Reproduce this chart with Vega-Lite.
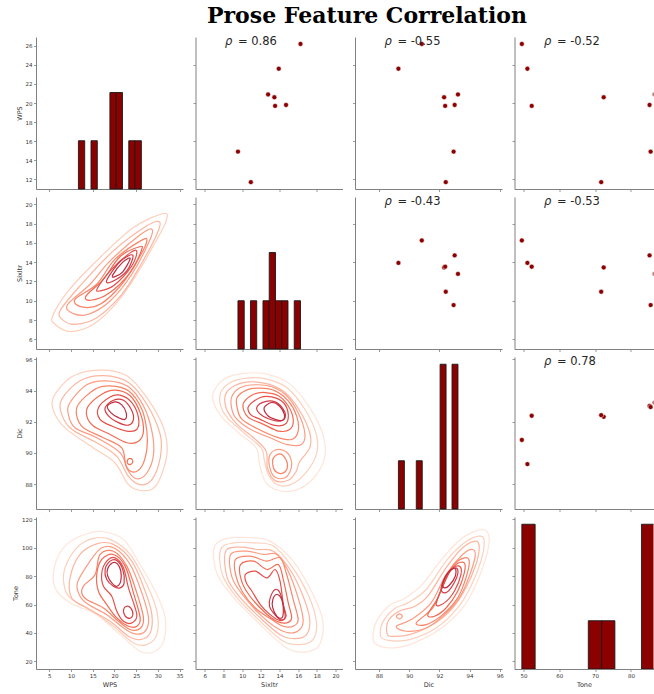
{
"$schema":"https://vega.github.io/schema/vega-lite/v6.json",
"background":"white",
"padding":{"left":12,"top":4,"right":0,"bottom":2},
"title":{"text":"Prose Feature Correlation","font":"DejaVu Serif","fontSize":22,"fontWeight":"bold","color":"#000000","anchor":"middle","dx":32,"offset":8},
"columns":4,
"spacing":{"row":8,"column":12.5},
"bounds":"flush",
"datasets":{
"pts":[
{"id":"a","WPS":26.2,"Sixltr":16.25,"Dic":90.83,"Tone":49.55},
{"id":"b","WPS":23.6,"Sixltr":13.92,"Dic":89.28,"Tone":51.1},
{"id":"c","WPS":20.9,"Sixltr":12.78,"Dic":93.23,"Tone":86.65},
{"id":"d","WPS":20.6,"Sixltr":13.45,"Dic":92.31,"Tone":72.4},
{"id":"e","WPS":19.7,"Sixltr":13.53,"Dic":92.38,"Tone":52.3},
{"id":"f","WPS":19.8,"Sixltr":14.7,"Dic":93.01,"Tone":85.2},
{"id":"g","WPS":14.9,"Sixltr":9.55,"Dic":92.94,"Tone":85.5},
{"id":"h","WPS":11.7,"Sixltr":10.93,"Dic":92.42,"Tone":71.7}
],
"hist":[
{"var":"WPS","lo":11.7,"hi":13.15,"n":1},{"var":"WPS","lo":14.6,"hi":16.05,"n":1},{"var":"WPS","lo":18.95,"hi":20.4,"n":2},{"var":"WPS","lo":20.4,"hi":21.85,"n":2},{"var":"WPS","lo":23.3,"hi":24.75,"n":1},{"var":"WPS","lo":24.75,"hi":26.2,"n":1},
{"var":"Sixltr","lo":9.55,"hi":10.22,"n":1},{"var":"Sixltr","lo":10.89,"hi":11.56,"n":1},{"var":"Sixltr","lo":12.23,"hi":12.9,"n":1},{"var":"Sixltr","lo":12.9,"hi":13.57,"n":2},{"var":"Sixltr","lo":13.57,"hi":14.24,"n":1},{"var":"Sixltr","lo":14.24,"hi":14.91,"n":1},{"var":"Sixltr","lo":15.58,"hi":16.25,"n":1},
{"var":"Dic","lo":89.28,"hi":89.675,"n":1},{"var":"Dic","lo":90.465,"hi":90.86,"n":1},{"var":"Dic","lo":92.045,"hi":92.44,"n":3},{"var":"Dic","lo":92.835,"hi":93.23,"n":3},
{"var":"Tone","lo":49.55,"hi":53.26,"n":3},{"var":"Tone","lo":68.1,"hi":71.81,"n":1},{"var":"Tone","lo":71.81,"hi":75.52,"n":1},{"var":"Tone","lo":82.94,"hi":86.65,"n":3}
],
"rho":[
{"pair":"WPS-Sixltr","label":"= 0.86"},{"pair":"WPS-Dic","label":"= -0.55"},{"pair":"WPS-Tone","label":"= -0.52"},
{"pair":"Sixltr-Dic","label":"= -0.43"},{"pair":"Sixltr-Tone","label":"= -0.53"},{"pair":"Dic-Tone","label":"= 0.78"}
],
"c_ws":[
{"r":"1","l":2,"k":0,"WPS":5.77,"Sixltr":8.42},{"r":"1","l":2,"k":1,"WPS":9.38,"Sixltr":11.02},{"r":"1","l":2,"k":2,"WPS":16.69,"Sixltr":14.48},{"r":"1","l":2,"k":3,"WPS":24.38,"Sixltr":17.59},{"r":"1","l":2,"k":4,"WPS":31.31,"Sixltr":19.04},{"r":"1","l":2,"k":5,"WPS":31.92,"Sixltr":18.28},{"r":"1","l":2,"k":6,"WPS":29.38,"Sixltr":16.03},{"r":"1","l":2,"k":7,"WPS":25.15,"Sixltr":12.75},{"r":"1","l":2,"k":8,"WPS":20.54,"Sixltr":9.81},{"r":"1","l":2,"k":9,"WPS":15.15,"Sixltr":7.56},{"r":"1","l":2,"k":10,"WPS":9.77,"Sixltr":6.8},{"r":"1","l":2,"k":11,"WPS":6.31,"Sixltr":7.56},
{"r":"2","l":3,"k":0,"WPS":7.46,"Sixltr":8.94},{"r":"2","l":3,"k":1,"WPS":12.08,"Sixltr":11.54},{"r":"2","l":3,"k":2,"WPS":19.77,"Sixltr":15.17},{"r":"2","l":3,"k":3,"WPS":27.46,"Sixltr":17.76},{"r":"2","l":3,"k":4,"WPS":30.38,"Sixltr":18.18},{"r":"2","l":3,"k":5,"WPS":29.77,"Sixltr":16.9},{"r":"2","l":3,"k":6,"WPS":25.92,"Sixltr":13.62},{"r":"2","l":3,"k":7,"WPS":21.69,"Sixltr":10.67},{"r":"2","l":3,"k":8,"WPS":15.92,"Sixltr":8.25},{"r":"2","l":3,"k":9,"WPS":10.92,"Sixltr":7.56},{"r":"2","l":3,"k":10,"WPS":8.23,"Sixltr":7.97},
{"r":"3","l":4,"k":0,"WPS":9.15,"Sixltr":9.56},{"r":"3","l":4,"k":1,"WPS":14.38,"Sixltr":11.71},{"r":"3","l":4,"k":2,"WPS":19.0,"Sixltr":14.13},{"r":"3","l":4,"k":3,"WPS":25.92,"Sixltr":16.83},{"r":"3","l":4,"k":4,"WPS":28.62,"Sixltr":17.42},{"r":"3","l":4,"k":5,"WPS":28.08,"Sixltr":16.21},{"r":"3","l":4,"k":6,"WPS":24.0,"Sixltr":12.75},{"r":"3","l":4,"k":7,"WPS":19.0,"Sixltr":9.98},{"r":"3","l":4,"k":8,"WPS":14.0,"Sixltr":8.6},{"r":"3","l":4,"k":9,"WPS":10.54,"Sixltr":8.67},
{"r":"4","l":5,"k":0,"WPS":10.92,"Sixltr":10.15},{"r":"4","l":5,"k":1,"WPS":15.92,"Sixltr":11.71},{"r":"4","l":5,"k":2,"WPS":20.15,"Sixltr":14.31},{"r":"4","l":5,"k":3,"WPS":26.31,"Sixltr":16.28},{"r":"4","l":5,"k":4,"WPS":27.46,"Sixltr":16.21},{"r":"4","l":5,"k":5,"WPS":25.92,"Sixltr":14.65},{"r":"4","l":5,"k":6,"WPS":21.69,"Sixltr":11.71},{"r":"4","l":5,"k":7,"WPS":16.69,"Sixltr":9.63},{"r":"4","l":5,"k":8,"WPS":12.46,"Sixltr":9.36},
{"r":"5","l":6,"k":0,"WPS":13.46,"Sixltr":10.5},{"r":"5","l":6,"k":1,"WPS":17.46,"Sixltr":12.22},{"r":"5","l":6,"k":2,"WPS":21.31,"Sixltr":14.58},{"r":"5","l":6,"k":3,"WPS":25.77,"Sixltr":15.59},{"r":"5","l":6,"k":4,"WPS":26.23,"Sixltr":15.24},{"r":"5","l":6,"k":5,"WPS":23.62,"Sixltr":12.92},{"r":"5","l":6,"k":6,"WPS":18.62,"Sixltr":10.74},{"r":"5","l":6,"k":7,"WPS":14.54,"Sixltr":10.05},
{"r":"6","l":7,"k":0,"WPS":16.08,"Sixltr":11.29},{"r":"6","l":7,"k":1,"WPS":19.38,"Sixltr":13.27},{"r":"6","l":7,"k":2,"WPS":23.62,"Sixltr":14.96},{"r":"6","l":7,"k":3,"WPS":25.15,"Sixltr":15.1},{"r":"6","l":7,"k":4,"WPS":24.0,"Sixltr":13.62},{"r":"6","l":7,"k":5,"WPS":19.92,"Sixltr":11.61},{"r":"6","l":7,"k":6,"WPS":16.69,"Sixltr":11.02},
{"r":"7","l":8,"k":0,"WPS":18.23,"Sixltr":12.13},{"r":"7","l":8,"k":1,"WPS":21.31,"Sixltr":14.07},{"r":"7","l":8,"k":2,"WPS":24.23,"Sixltr":14.72},{"r":"7","l":8,"k":3,"WPS":22.85,"Sixltr":13.09},{"r":"7","l":8,"k":4,"WPS":19.38,"Sixltr":11.96},
{"r":"8","l":9,"k":0,"WPS":19.62,"Sixltr":12.68},{"r":"8","l":9,"k":1,"WPS":21.92,"Sixltr":14.0},{"r":"8","l":9,"k":2,"WPS":23.62,"Sixltr":14.38},{"r":"8","l":9,"k":3,"WPS":21.92,"Sixltr":13.0},{"r":"8","l":9,"k":4,"WPS":20.0,"Sixltr":12.48}
],
"c_wd":[
{"r":"1","l":2,"k":0,"WPS":5.92,"Dic":93.55},{"r":"1","l":2,"k":1,"WPS":10.15,"Dic":94.88},{"r":"1","l":2,"k":2,"WPS":16.69,"Dic":95.31},{"r":"1","l":2,"k":3,"WPS":22.85,"Dic":94.95},{"r":"1","l":2,"k":4,"WPS":27.46,"Dic":93.55},{"r":"1","l":2,"k":5,"WPS":31.31,"Dic":91.61},{"r":"1","l":2,"k":6,"WPS":32.08,"Dic":89.89},{"r":"1","l":2,"k":7,"WPS":29.77,"Dic":87.96},{"r":"1","l":2,"k":8,"WPS":26.69,"Dic":87.57},{"r":"1","l":2,"k":9,"WPS":23.23,"Dic":87.96},{"r":"1","l":2,"k":10,"WPS":20.15,"Dic":89.35},{"r":"1","l":2,"k":11,"WPS":15.15,"Dic":90.32},{"r":"1","l":2,"k":12,"WPS":9.0,"Dic":91.51},{"r":"1","l":2,"k":13,"WPS":6.31,"Dic":92.47},
{"r":"2","l":3,"k":0,"WPS":7.85,"Dic":93.44},{"r":"2","l":3,"k":1,"WPS":12.08,"Dic":94.62},{"r":"2","l":3,"k":2,"WPS":17.46,"Dic":94.95},{"r":"2","l":3,"k":3,"WPS":23.23,"Dic":94.52},{"r":"2","l":3,"k":4,"WPS":27.46,"Dic":93.12},{"r":"2","l":3,"k":5,"WPS":30.54,"Dic":91.18},{"r":"2","l":3,"k":6,"WPS":30.54,"Dic":89.68},{"r":"2","l":3,"k":7,"WPS":28.62,"Dic":88.28},{"r":"2","l":3,"k":8,"WPS":25.92,"Dic":87.96},{"r":"2","l":3,"k":9,"WPS":23.23,"Dic":88.49},{"r":"2","l":3,"k":10,"WPS":20.54,"Dic":89.78},{"r":"2","l":3,"k":11,"WPS":15.92,"Dic":90.65},{"r":"2","l":3,"k":12,"WPS":10.15,"Dic":91.51},{"r":"2","l":3,"k":13,"WPS":7.85,"Dic":92.47},
{"r":"3","l":4,"k":0,"WPS":9.77,"Dic":93.23},{"r":"3","l":4,"k":1,"WPS":13.62,"Dic":94.37},{"r":"3","l":4,"k":2,"WPS":18.23,"Dic":94.62},{"r":"3","l":4,"k":3,"WPS":23.23,"Dic":94.24},{"r":"3","l":4,"k":4,"WPS":26.69,"Dic":93.01},{"r":"3","l":4,"k":5,"WPS":28.62,"Dic":91.4},{"r":"3","l":4,"k":6,"WPS":29.0,"Dic":89.89},{"r":"3","l":4,"k":7,"WPS":27.46,"Dic":88.71},{"r":"3","l":4,"k":8,"WPS":25.15,"Dic":88.34},{"r":"3","l":4,"k":9,"WPS":23.23,"Dic":88.82},{"r":"3","l":4,"k":10,"WPS":21.31,"Dic":90.0},{"r":"3","l":4,"k":11,"WPS":15.92,"Dic":90.97},{"r":"3","l":4,"k":12,"WPS":10.92,"Dic":91.61},{"r":"3","l":4,"k":13,"WPS":9.38,"Dic":92.47},
{"r":"4","l":5,"k":0,"WPS":11.69,"Dic":93.12},{"r":"4","l":5,"k":1,"WPS":15.54,"Dic":94.09},{"r":"4","l":5,"k":2,"WPS":19.0,"Dic":94.3},{"r":"4","l":5,"k":3,"WPS":23.23,"Dic":93.98},{"r":"4","l":5,"k":4,"WPS":26.31,"Dic":92.8},{"r":"4","l":5,"k":5,"WPS":27.46,"Dic":91.4},{"r":"4","l":5,"k":6,"WPS":27.46,"Dic":90.22},{"r":"4","l":5,"k":7,"WPS":26.31,"Dic":89.14},{"r":"4","l":5,"k":8,"WPS":24.38,"Dic":88.77},{"r":"4","l":5,"k":9,"WPS":22.69,"Dic":89.14},{"r":"4","l":5,"k":10,"WPS":21.69,"Dic":90.32},{"r":"4","l":5,"k":11,"WPS":17.46,"Dic":90.97},{"r":"4","l":5,"k":12,"WPS":12.85,"Dic":91.61},{"r":"4","l":5,"k":13,"WPS":11.31,"Dic":92.37},
{"r":"5","l":6,"k":0,"WPS":14.0,"Dic":93.01},{"r":"5","l":6,"k":1,"WPS":17.08,"Dic":93.76},{"r":"5","l":6,"k":2,"WPS":20.15,"Dic":94.02},{"r":"5","l":6,"k":3,"WPS":23.62,"Dic":93.66},{"r":"5","l":6,"k":4,"WPS":25.92,"Dic":92.58},{"r":"5","l":6,"k":5,"WPS":26.69,"Dic":91.4},{"r":"5","l":6,"k":6,"WPS":25.54,"Dic":90.75},{"r":"5","l":6,"k":7,"WPS":22.85,"Dic":90.65},{"r":"5","l":6,"k":8,"WPS":19.0,"Dic":91.18},{"r":"5","l":6,"k":9,"WPS":15.15,"Dic":91.72},{"r":"5","l":6,"k":10,"WPS":13.62,"Dic":92.37},
{"r":"5b","l":6,"k":0,"WPS":23.08,"Dic":89.57},{"r":"5b","l":6,"k":1,"WPS":23.85,"Dic":89.63},{"r":"5b","l":6,"k":2,"WPS":24.23,"Dic":89.42},{"r":"5b","l":6,"k":3,"WPS":23.62,"Dic":89.25},{"r":"5b","l":6,"k":4,"WPS":23.0,"Dic":89.35},
{"r":"6","l":7,"k":0,"WPS":16.31,"Dic":92.9},{"r":"6","l":7,"k":1,"WPS":19.0,"Dic":93.59},{"r":"6","l":7,"k":2,"WPS":21.31,"Dic":93.7},{"r":"6","l":7,"k":3,"WPS":24.0,"Dic":93.23},{"r":"6","l":7,"k":4,"WPS":25.54,"Dic":92.26},{"r":"6","l":7,"k":5,"WPS":25.15,"Dic":91.51},{"r":"6","l":7,"k":6,"WPS":22.85,"Dic":91.4},{"r":"6","l":7,"k":7,"WPS":19.38,"Dic":91.72},{"r":"6","l":7,"k":8,"WPS":16.69,"Dic":92.15},
{"r":"7","l":8,"k":0,"WPS":17.85,"Dic":92.9},{"r":"7","l":8,"k":1,"WPS":19.77,"Dic":93.38},{"r":"7","l":8,"k":2,"WPS":22.08,"Dic":93.38},{"r":"7","l":8,"k":3,"WPS":23.85,"Dic":92.8},{"r":"7","l":8,"k":4,"WPS":24.38,"Dic":92.15},{"r":"7","l":8,"k":5,"WPS":23.23,"Dic":91.78},{"r":"7","l":8,"k":6,"WPS":20.92,"Dic":91.94},{"r":"7","l":8,"k":7,"WPS":18.62,"Dic":92.37},
{"r":"8","l":9,"k":0,"WPS":18.38,"Dic":93.01},{"r":"8","l":9,"k":1,"WPS":20.15,"Dic":93.27},{"r":"8","l":9,"k":2,"WPS":21.69,"Dic":93.08},{"r":"8","l":9,"k":3,"WPS":22.69,"Dic":92.58},{"r":"8","l":9,"k":4,"WPS":22.46,"Dic":92.15},{"r":"8","l":9,"k":5,"WPS":20.92,"Dic":92.26},{"r":"8","l":9,"k":6,"WPS":19.15,"Dic":92.58}
],
"c_sd":[
{"r":"1","l":1,"k":0,"Sixltr":6.92,"Dic":93.87},{"r":"1","l":1,"k":1,"Sixltr":8.05,"Dic":94.73},{"r":"1","l":1,"k":2,"Sixltr":10.17,"Dic":95.1},{"r":"1","l":1,"k":3,"Sixltr":12.64,"Dic":95.05},{"r":"1","l":1,"k":4,"Sixltr":15.12,"Dic":94.41},{"r":"1","l":1,"k":5,"Sixltr":17.24,"Dic":92.9},{"r":"1","l":1,"k":6,"Sixltr":18.65,"Dic":91.18},{"r":"1","l":1,"k":7,"Sixltr":18.83,"Dic":89.68},{"r":"1","l":1,"k":8,"Sixltr":17.59,"Dic":88.34},{"r":"1","l":1,"k":9,"Sixltr":15.83,"Dic":87.63},{"r":"1","l":1,"k":10,"Sixltr":14.06,"Dic":87.57},{"r":"1","l":1,"k":11,"Sixltr":12.57,"Dic":88.06},{"r":"1","l":1,"k":12,"Sixltr":11.87,"Dic":89.25},{"r":"1","l":1,"k":13,"Sixltr":11.51,"Dic":90.32},{"r":"1","l":1,"k":14,"Sixltr":9.82,"Dic":91.18},{"r":"1","l":1,"k":15,"Sixltr":7.87,"Dic":92.26},{"r":"1","l":1,"k":16,"Sixltr":6.99,"Dic":93.12},
{"r":"2","l":2,"k":0,"Sixltr":7.7,"Dic":93.87},{"r":"2","l":2,"k":1,"Sixltr":8.75,"Dic":94.52},{"r":"2","l":2,"k":2,"Sixltr":10.52,"Dic":94.8},{"r":"2","l":2,"k":3,"Sixltr":12.64,"Dic":94.73},{"r":"2","l":2,"k":4,"Sixltr":14.77,"Dic":94.19},{"r":"2","l":2,"k":5,"Sixltr":16.71,"Dic":92.8},{"r":"2","l":2,"k":6,"Sixltr":17.95,"Dic":91.18},{"r":"2","l":2,"k":7,"Sixltr":17.95,"Dic":89.89},{"r":"2","l":2,"k":8,"Sixltr":16.71,"Dic":88.65},{"r":"2","l":2,"k":9,"Sixltr":15.19,"Dic":87.96},{"r":"2","l":2,"k":10,"Sixltr":13.78,"Dic":87.96},{"r":"2","l":2,"k":11,"Sixltr":12.82,"Dic":88.6},{"r":"2","l":2,"k":12,"Sixltr":12.36,"Dic":89.57},{"r":"2","l":2,"k":13,"Sixltr":12.04,"Dic":90.32},{"r":"2","l":2,"k":14,"Sixltr":10.17,"Dic":91.29},{"r":"2","l":2,"k":15,"Sixltr":8.4,"Dic":92.26},{"r":"2","l":2,"k":16,"Sixltr":7.7,"Dic":93.01},
{"r":"3","l":3,"k":0,"Sixltr":8.23,"Dic":93.76},{"r":"3","l":3,"k":1,"Sixltr":9.29,"Dic":94.34},{"r":"3","l":3,"k":2,"Sixltr":10.88,"Dic":94.56},{"r":"3","l":3,"k":3,"Sixltr":12.82,"Dic":94.41},{"r":"3","l":3,"k":4,"Sixltr":14.59,"Dic":93.87},{"r":"3","l":3,"k":5,"Sixltr":16.18,"Dic":92.69},{"r":"3","l":3,"k":6,"Sixltr":17.24,"Dic":91.29},{"r":"3","l":3,"k":7,"Sixltr":17.24,"Dic":90.32},{"r":"3","l":3,"k":8,"Sixltr":16.18,"Dic":89.46},{"r":"3","l":3,"k":9,"Sixltr":15.75,"Dic":88.77},{"r":"3","l":3,"k":10,"Sixltr":14.94,"Dic":88.24},{"r":"3","l":3,"k":11,"Sixltr":13.53,"Dic":88.22},{"r":"3","l":3,"k":12,"Sixltr":12.71,"Dic":89.03},{"r":"3","l":3,"k":13,"Sixltr":12.57,"Dic":90.11},{"r":"3","l":3,"k":14,"Sixltr":11.23,"Dic":90.97},{"r":"3","l":3,"k":15,"Sixltr":9.46,"Dic":91.83},{"r":"3","l":3,"k":16,"Sixltr":8.33,"Dic":92.8},
{"r":"4","l":4,"k":0,"Sixltr":8.93,"Dic":93.66},{"r":"4","l":4,"k":1,"Sixltr":9.82,"Dic":94.19},{"r":"4","l":4,"k":2,"Sixltr":11.4,"Dic":94.37},{"r":"4","l":4,"k":3,"Sixltr":13.17,"Dic":94.24},{"r":"4","l":4,"k":4,"Sixltr":14.77,"Dic":93.66},{"r":"4","l":4,"k":5,"Sixltr":16.0,"Dic":92.58},{"r":"4","l":4,"k":6,"Sixltr":16.71,"Dic":91.29},{"r":"4","l":4,"k":7,"Sixltr":16.36,"Dic":90.54},{"r":"4","l":4,"k":8,"Sixltr":14.77,"Dic":90.54},{"r":"4","l":4,"k":9,"Sixltr":12.99,"Dic":90.97},{"r":"4","l":4,"k":10,"Sixltr":10.88,"Dic":91.51},{"r":"4","l":4,"k":11,"Sixltr":9.29,"Dic":92.26},{"r":"4","l":4,"k":12,"Sixltr":8.83,"Dic":93.01},
{"r":"4b","l":4,"k":0,"Sixltr":12.99,"Dic":89.89},{"r":"4b","l":4,"k":1,"Sixltr":13.88,"Dic":90.22},{"r":"4b","l":4,"k":2,"Sixltr":14.94,"Dic":89.94},{"r":"4b","l":4,"k":3,"Sixltr":15.29,"Dic":89.14},{"r":"4b","l":4,"k":4,"Sixltr":14.69,"Dic":88.43},{"r":"4b","l":4,"k":5,"Sixltr":13.53,"Dic":88.43},{"r":"4b","l":4,"k":6,"Sixltr":12.93,"Dic":89.14},
{"r":"5","l":5,"k":0,"Sixltr":9.46,"Dic":93.55},{"r":"5","l":5,"k":1,"Sixltr":10.52,"Dic":94.04},{"r":"5","l":5,"k":2,"Sixltr":11.94,"Dic":94.15},{"r":"5","l":5,"k":3,"Sixltr":13.53,"Dic":93.98},{"r":"5","l":5,"k":4,"Sixltr":14.94,"Dic":93.33},{"r":"5","l":5,"k":5,"Sixltr":15.83,"Dic":92.37},{"r":"5","l":5,"k":6,"Sixltr":16.0,"Dic":91.4},{"r":"5","l":5,"k":7,"Sixltr":15.29,"Dic":90.86},{"r":"5","l":5,"k":8,"Sixltr":13.7,"Dic":91.01},{"r":"5","l":5,"k":9,"Sixltr":11.76,"Dic":91.51},{"r":"5","l":5,"k":10,"Sixltr":9.99,"Dic":92.15},{"r":"5","l":5,"k":11,"Sixltr":9.46,"Dic":92.9},
{"r":"5b","l":5,"k":0,"Sixltr":13.35,"Dic":89.68},{"r":"5b","l":5,"k":1,"Sixltr":14.06,"Dic":89.94},{"r":"5b","l":5,"k":2,"Sixltr":14.69,"Dic":89.57},{"r":"5b","l":5,"k":3,"Sixltr":14.83,"Dic":89.03},{"r":"5b","l":5,"k":4,"Sixltr":14.27,"Dic":88.69},{"r":"5b","l":5,"k":5,"Sixltr":13.56,"Dic":88.82},{"r":"5b","l":5,"k":6,"Sixltr":13.28,"Dic":89.25},
{"r":"6","l":6,"k":0,"Sixltr":10.17,"Dic":93.23},{"r":"6","l":6,"k":1,"Sixltr":11.23,"Dic":93.76},{"r":"6","l":6,"k":2,"Sixltr":12.47,"Dic":93.87},{"r":"6","l":6,"k":3,"Sixltr":13.88,"Dic":93.66},{"r":"6","l":6,"k":4,"Sixltr":14.94,"Dic":93.01},{"r":"6","l":6,"k":5,"Sixltr":15.47,"Dic":92.15},{"r":"6","l":6,"k":6,"Sixltr":15.12,"Dic":91.51},{"r":"6","l":6,"k":7,"Sixltr":13.88,"Dic":91.4},{"r":"6","l":6,"k":8,"Sixltr":12.29,"Dic":91.83},{"r":"6","l":6,"k":9,"Sixltr":10.7,"Dic":92.26},{"r":"6","l":6,"k":10,"Sixltr":10.17,"Dic":92.73},
{"r":"7","l":7,"k":0,"Sixltr":10.7,"Dic":93.01},{"r":"7","l":7,"k":1,"Sixltr":11.94,"Dic":93.55},{"r":"7","l":7,"k":2,"Sixltr":13.17,"Dic":93.59},{"r":"7","l":7,"k":3,"Sixltr":14.41,"Dic":93.23},{"r":"7","l":7,"k":4,"Sixltr":14.94,"Dic":92.47},{"r":"7","l":7,"k":5,"Sixltr":14.59,"Dic":91.83},{"r":"7","l":7,"k":6,"Sixltr":13.35,"Dic":91.78},{"r":"7","l":7,"k":7,"Sixltr":11.94,"Dic":92.15},{"r":"7","l":7,"k":8,"Sixltr":10.88,"Dic":92.47},
{"r":"8","l":8,"k":0,"Sixltr":11.58,"Dic":92.95},{"r":"8","l":8,"k":1,"Sixltr":12.47,"Dic":93.29},{"r":"8","l":8,"k":2,"Sixltr":13.53,"Dic":93.27},{"r":"8","l":8,"k":3,"Sixltr":14.41,"Dic":92.8},{"r":"8","l":8,"k":4,"Sixltr":14.59,"Dic":92.26},{"r":"8","l":8,"k":5,"Sixltr":13.88,"Dic":92.04},{"r":"8","l":8,"k":6,"Sixltr":12.82,"Dic":92.19},{"r":"8","l":8,"k":7,"Sixltr":11.87,"Dic":92.52},
{"r":"9","l":9,"k":0,"Sixltr":12.36,"Dic":92.9},{"r":"9","l":9,"k":1,"Sixltr":13.17,"Dic":93.23},{"r":"9","l":9,"k":2,"Sixltr":13.99,"Dic":93.01},{"r":"9","l":9,"k":3,"Sixltr":14.52,"Dic":92.47},{"r":"9","l":9,"k":4,"Sixltr":14.34,"Dic":92.09},{"r":"9","l":9,"k":5,"Sixltr":13.53,"Dic":92.15},{"r":"9","l":9,"k":6,"Sixltr":12.71,"Dic":92.41}
],
"c_wt":[
{"r":"1","l":1,"k":0,"WPS":6.31,"Tone":88.2},{"r":"1","l":1,"k":1,"WPS":9.0,"Tone":102.4},{"r":"1","l":1,"k":2,"WPS":13.62,"Tone":109.9},{"r":"1","l":1,"k":3,"WPS":17.46,"Tone":111.3},{"r":"1","l":1,"k":4,"WPS":22.08,"Tone":105.9},{"r":"1","l":1,"k":5,"WPS":25.92,"Tone":88.2},{"r":"1","l":1,"k":6,"WPS":29.77,"Tone":67.1},{"r":"1","l":1,"k":7,"WPS":31.69,"Tone":50.6},{"r":"1","l":1,"k":8,"WPS":31.31,"Tone":34.1},{"r":"1","l":1,"k":9,"WPS":29.0,"Tone":26.6},{"r":"1","l":1,"k":10,"WPS":25.92,"Tone":27.1},{"r":"1","l":1,"k":11,"WPS":21.31,"Tone":38.8},{"r":"1","l":1,"k":12,"WPS":15.92,"Tone":52.9},{"r":"1","l":1,"k":13,"WPS":9.77,"Tone":61.2},{"r":"1","l":1,"k":14,"WPS":6.31,"Tone":71.8},
{"r":"2","l":2,"k":0,"WPS":8.62,"Tone":85.9},{"r":"2","l":2,"k":1,"WPS":11.31,"Tone":100.0},{"r":"2","l":2,"k":2,"WPS":15.15,"Tone":106.6},{"r":"2","l":2,"k":3,"WPS":19.0,"Tone":105.9},{"r":"2","l":2,"k":4,"WPS":23.62,"Tone":95.3},{"r":"2","l":2,"k":5,"WPS":27.46,"Tone":74.1},{"r":"2","l":2,"k":6,"WPS":29.77,"Tone":55.3},{"r":"2","l":2,"k":7,"WPS":29.77,"Tone":38.8},{"r":"2","l":2,"k":8,"WPS":27.46,"Tone":31.8},{"r":"2","l":2,"k":9,"WPS":24.38,"Tone":32.9},{"r":"2","l":2,"k":10,"WPS":19.77,"Tone":44.7},{"r":"2","l":2,"k":11,"WPS":14.38,"Tone":56.5},{"r":"2","l":2,"k":12,"WPS":9.77,"Tone":64.7},{"r":"2","l":2,"k":13,"WPS":8.38,"Tone":74.1},
{"r":"3","l":3,"k":0,"WPS":9.77,"Tone":78.8},{"r":"3","l":3,"k":1,"WPS":12.08,"Tone":95.3},{"r":"3","l":3,"k":2,"WPS":15.92,"Tone":102.8},{"r":"3","l":3,"k":3,"WPS":19.77,"Tone":102.4},{"r":"3","l":3,"k":4,"WPS":24.0,"Tone":90.6},{"r":"3","l":3,"k":5,"WPS":27.08,"Tone":69.4},{"r":"3","l":3,"k":6,"WPS":28.62,"Tone":52.9},{"r":"3","l":3,"k":7,"WPS":28.23,"Tone":40.0},{"r":"3","l":3,"k":8,"WPS":25.92,"Tone":35.3},{"r":"3","l":3,"k":9,"WPS":23.23,"Tone":37.6},{"r":"3","l":3,"k":10,"WPS":19.0,"Tone":48.2},{"r":"3","l":3,"k":11,"WPS":13.62,"Tone":57.6},{"r":"3","l":3,"k":12,"WPS":10.15,"Tone":64.7},
{"r":"4","l":4,"k":0,"WPS":11.46,"Tone":75.3},{"r":"4","l":4,"k":1,"WPS":14.38,"Tone":90.6},{"r":"4","l":4,"k":2,"WPS":17.08,"Tone":100.0},{"r":"4","l":4,"k":3,"WPS":20.15,"Tone":99.5},{"r":"4","l":4,"k":4,"WPS":23.62,"Tone":88.2},{"r":"4","l":4,"k":5,"WPS":26.31,"Tone":68.2},{"r":"4","l":4,"k":6,"WPS":27.85,"Tone":50.6},{"r":"4","l":4,"k":7,"WPS":27.08,"Tone":41.2},{"r":"4","l":4,"k":8,"WPS":24.77,"Tone":39.3},{"r":"4","l":4,"k":9,"WPS":22.08,"Tone":43.5},{"r":"4","l":4,"k":10,"WPS":18.23,"Tone":52.9},{"r":"4","l":4,"k":11,"WPS":14.0,"Tone":60.0},{"r":"4","l":4,"k":12,"WPS":12.08,"Tone":65.9},
{"r":"5","l":5,"k":0,"WPS":13.0,"Tone":73.6},{"r":"5","l":5,"k":1,"WPS":15.54,"Tone":81.2},{"r":"5","l":5,"k":2,"WPS":16.69,"Tone":95.3},{"r":"5","l":5,"k":3,"WPS":19.77,"Tone":97.6},{"r":"5","l":5,"k":4,"WPS":22.85,"Tone":87.1},{"r":"5","l":5,"k":5,"WPS":25.15,"Tone":68.2},{"r":"5","l":5,"k":6,"WPS":26.69,"Tone":50.6},{"r":"5","l":5,"k":7,"WPS":25.92,"Tone":43.1},{"r":"5","l":5,"k":8,"WPS":23.62,"Tone":42.4},{"r":"5","l":5,"k":9,"WPS":20.92,"Tone":48.2},{"r":"5","l":5,"k":10,"WPS":17.46,"Tone":57.6},{"r":"5","l":5,"k":11,"WPS":13.62,"Tone":63.5},{"r":"5","l":5,"k":12,"WPS":12.46,"Tone":68.2},
{"r":"6","l":6,"k":0,"WPS":15.92,"Tone":81.2},{"r":"6","l":6,"k":1,"WPS":17.08,"Tone":91.8},{"r":"6","l":6,"k":2,"WPS":19.77,"Tone":95.3},{"r":"6","l":6,"k":3,"WPS":22.46,"Tone":87.1},{"r":"6","l":6,"k":4,"WPS":24.38,"Tone":68.2},{"r":"6","l":6,"k":5,"WPS":25.92,"Tone":50.6},{"r":"6","l":6,"k":6,"WPS":25.15,"Tone":44.7},{"r":"6","l":6,"k":7,"WPS":23.23,"Tone":44.7},{"r":"6","l":6,"k":8,"WPS":20.54,"Tone":50.6},{"r":"6","l":6,"k":9,"WPS":18.23,"Tone":60.0},{"r":"6","l":6,"k":10,"WPS":16.31,"Tone":69.4},
{"r":"7","l":7,"k":0,"WPS":17.08,"Tone":82.4},{"r":"7","l":7,"k":1,"WPS":18.23,"Tone":90.6},{"r":"7","l":7,"k":2,"WPS":20.15,"Tone":92.9},{"r":"7","l":7,"k":3,"WPS":22.08,"Tone":85.9},{"r":"7","l":7,"k":4,"WPS":23.23,"Tone":71.8},{"r":"7","l":7,"k":5,"WPS":25.15,"Tone":52.9},{"r":"7","l":7,"k":6,"WPS":24.0,"Tone":47.1},{"r":"7","l":7,"k":7,"WPS":22.08,"Tone":48.2},{"r":"7","l":7,"k":8,"WPS":20.54,"Tone":55.3},{"r":"7","l":7,"k":9,"WPS":19.38,"Tone":65.9},{"r":"7","l":7,"k":10,"WPS":17.46,"Tone":72.9},
{"r":"8","l":8,"k":0,"WPS":17.85,"Tone":84.7},{"r":"8","l":8,"k":1,"WPS":19.0,"Tone":90.6},{"r":"8","l":8,"k":2,"WPS":20.54,"Tone":91.1},{"r":"8","l":8,"k":3,"WPS":21.92,"Tone":84.7},{"r":"8","l":8,"k":4,"WPS":22.23,"Tone":75.3},{"r":"8","l":8,"k":5,"WPS":21.31,"Tone":71.8},{"r":"8","l":8,"k":6,"WPS":19.77,"Tone":72.9},{"r":"8","l":8,"k":7,"WPS":18.23,"Tone":77.6},
{"r":"8b","l":8,"k":0,"WPS":22.23,"Tone":57.6},{"r":"8b","l":8,"k":1,"WPS":23.23,"Tone":58.8},{"r":"8b","l":8,"k":2,"WPS":24.15,"Tone":55.3},{"r":"8b","l":8,"k":3,"WPS":24.0,"Tone":51.1},{"r":"8b","l":8,"k":4,"WPS":23.0,"Tone":50.6},{"r":"8b","l":8,"k":5,"WPS":22.23,"Tone":53.4},
{"r":"9","l":9,"k":0,"WPS":18.38,"Tone":84.7},{"r":"9","l":9,"k":1,"WPS":19.54,"Tone":89.4},{"r":"9","l":9,"k":2,"WPS":20.69,"Tone":88.7},{"r":"9","l":9,"k":3,"WPS":21.46,"Tone":83.5},{"r":"9","l":9,"k":4,"WPS":21.46,"Tone":76.5},{"r":"9","l":9,"k":5,"WPS":20.54,"Tone":72.9},{"r":"9","l":9,"k":6,"WPS":19.38,"Tone":75.3},{"r":"9","l":9,"k":7,"WPS":18.46,"Tone":80.0}
],
"c_st":[
{"r":"1","l":1,"k":0,"Sixltr":6.99,"Tone":100.0},{"r":"1","l":1,"k":1,"Sixltr":8.4,"Tone":106.6},{"r":"1","l":1,"k":2,"Sixltr":10.88,"Tone":107.1},{"r":"1","l":1,"k":3,"Sixltr":13.0,"Tone":104.7},{"r":"1","l":1,"k":4,"Sixltr":15.47,"Tone":90.6},{"r":"1","l":1,"k":5,"Sixltr":17.59,"Tone":67.1},{"r":"1","l":1,"k":6,"Sixltr":18.65,"Tone":48.2},{"r":"1","l":1,"k":7,"Sixltr":18.3,"Tone":31.8},{"r":"1","l":1,"k":8,"Sixltr":16.89,"Tone":26.6},{"r":"1","l":1,"k":9,"Sixltr":14.77,"Tone":29.4},{"r":"1","l":1,"k":10,"Sixltr":11.94,"Tone":45.9},{"r":"1","l":1,"k":11,"Sixltr":9.11,"Tone":64.7},{"r":"1","l":1,"k":12,"Sixltr":7.34,"Tone":81.2},
{"r":"2","l":2,"k":0,"Sixltr":7.7,"Tone":98.8},{"r":"2","l":2,"k":1,"Sixltr":9.11,"Tone":103.5},{"r":"2","l":2,"k":2,"Sixltr":11.23,"Tone":103.5},{"r":"2","l":2,"k":3,"Sixltr":13.35,"Tone":101.2},{"r":"2","l":2,"k":4,"Sixltr":15.3,"Tone":87.1},{"r":"2","l":2,"k":5,"Sixltr":17.06,"Tone":67.1},{"r":"2","l":2,"k":6,"Sixltr":17.95,"Tone":48.2},{"r":"2","l":2,"k":7,"Sixltr":17.59,"Tone":35.3},{"r":"2","l":2,"k":8,"Sixltr":16.18,"Tone":31.8},{"r":"2","l":2,"k":9,"Sixltr":14.41,"Tone":34.1},{"r":"2","l":2,"k":10,"Sixltr":11.94,"Tone":48.2},{"r":"2","l":2,"k":11,"Sixltr":9.46,"Tone":64.7},{"r":"2","l":2,"k":12,"Sixltr":7.87,"Tone":81.2},
{"r":"3","l":3,"k":0,"Sixltr":8.23,"Tone":97.6},{"r":"3","l":3,"k":1,"Sixltr":9.82,"Tone":100.5},{"r":"3","l":3,"k":2,"Sixltr":11.59,"Tone":98.8},{"r":"3","l":3,"k":3,"Sixltr":13.35,"Tone":97.6},{"r":"3","l":3,"k":4,"Sixltr":15.12,"Tone":84.7},{"r":"3","l":3,"k":5,"Sixltr":16.53,"Tone":65.9},{"r":"3","l":3,"k":6,"Sixltr":17.24,"Tone":49.4},{"r":"3","l":3,"k":7,"Sixltr":16.89,"Tone":38.8},{"r":"3","l":3,"k":8,"Sixltr":15.65,"Tone":36.0},{"r":"3","l":3,"k":9,"Sixltr":14.06,"Tone":38.8},{"r":"3","l":3,"k":10,"Sixltr":11.94,"Tone":50.6},{"r":"3","l":3,"k":11,"Sixltr":9.82,"Tone":64.7},{"r":"3","l":3,"k":12,"Sixltr":8.4,"Tone":78.8},
{"r":"4","l":4,"k":0,"Sixltr":8.76,"Tone":95.3},{"r":"4","l":4,"k":1,"Sixltr":10.52,"Tone":97.6},{"r":"4","l":4,"k":2,"Sixltr":12.29,"Tone":95.3},{"r":"4","l":4,"k":3,"Sixltr":13.71,"Tone":95.3},{"r":"4","l":4,"k":4,"Sixltr":14.94,"Tone":83.5},{"r":"4","l":4,"k":5,"Sixltr":16.0,"Tone":64.7},{"r":"4","l":4,"k":6,"Sixltr":16.53,"Tone":49.4},{"r":"4","l":4,"k":7,"Sixltr":16.18,"Tone":42.4},{"r":"4","l":4,"k":8,"Sixltr":15.12,"Tone":40.0},{"r":"4","l":4,"k":9,"Sixltr":13.71,"Tone":43.5},{"r":"4","l":4,"k":10,"Sixltr":11.94,"Tone":52.9},{"r":"4","l":4,"k":11,"Sixltr":10.17,"Tone":65.9},{"r":"4","l":4,"k":12,"Sixltr":8.93,"Tone":78.8},
{"r":"5","l":5,"k":0,"Sixltr":9.29,"Tone":91.8},{"r":"5","l":5,"k":1,"Sixltr":10.88,"Tone":94.1},{"r":"5","l":5,"k":2,"Sixltr":12.65,"Tone":90.6},{"r":"5","l":5,"k":3,"Sixltr":14.06,"Tone":92.9},{"r":"5","l":5,"k":4,"Sixltr":14.77,"Tone":81.2},{"r":"5","l":5,"k":5,"Sixltr":15.47,"Tone":63.5},{"r":"5","l":5,"k":6,"Sixltr":16.0,"Tone":49.4},{"r":"5","l":5,"k":7,"Sixltr":15.47,"Tone":44.7},{"r":"5","l":5,"k":8,"Sixltr":14.41,"Tone":44.7},{"r":"5","l":5,"k":9,"Sixltr":13.18,"Tone":49.4},{"r":"5","l":5,"k":10,"Sixltr":11.41,"Tone":57.6},{"r":"5","l":5,"k":11,"Sixltr":9.99,"Tone":69.4},{"r":"5","l":5,"k":12,"Sixltr":9.29,"Tone":81.2},
{"r":"6","l":6,"k":0,"Sixltr":9.82,"Tone":88.2},{"r":"6","l":6,"k":1,"Sixltr":11.23,"Tone":90.6},{"r":"6","l":6,"k":2,"Sixltr":12.65,"Tone":84.7},{"r":"6","l":6,"k":3,"Sixltr":13.88,"Tone":88.2},{"r":"6","l":6,"k":4,"Sixltr":14.41,"Tone":77.6},{"r":"6","l":6,"k":5,"Sixltr":14.94,"Tone":61.2},{"r":"6","l":6,"k":6,"Sixltr":15.3,"Tone":50.6},{"r":"6","l":6,"k":7,"Sixltr":14.77,"Tone":47.1},{"r":"6","l":6,"k":8,"Sixltr":13.71,"Tone":48.2},{"r":"6","l":6,"k":9,"Sixltr":12.29,"Tone":55.3},{"r":"6","l":6,"k":10,"Sixltr":10.7,"Tone":67.1},{"r":"6","l":6,"k":11,"Sixltr":9.89,"Tone":77.6},
{"r":"7","l":7,"k":0,"Sixltr":10.35,"Tone":81.2},{"r":"7","l":7,"k":1,"Sixltr":11.41,"Tone":83.5},{"r":"7","l":7,"k":2,"Sixltr":12.65,"Tone":78.8},{"r":"7","l":7,"k":3,"Sixltr":13.53,"Tone":84.7},{"r":"7","l":7,"k":4,"Sixltr":14.06,"Tone":76.5},{"r":"7","l":7,"k":5,"Sixltr":14.41,"Tone":60.0},{"r":"7","l":7,"k":6,"Sixltr":14.7,"Tone":51.8},{"r":"7","l":7,"k":7,"Sixltr":14.06,"Tone":48.7},{"r":"7","l":7,"k":8,"Sixltr":13.0,"Tone":52.9},{"r":"7","l":7,"k":9,"Sixltr":11.94,"Tone":60.0},{"r":"7","l":7,"k":10,"Sixltr":11.05,"Tone":69.4},{"r":"7","l":7,"k":11,"Sixltr":10.45,"Tone":75.3},
{"r":"8","l":8,"k":0,"Sixltr":13.0,"Tone":64.7},{"r":"8","l":8,"k":1,"Sixltr":13.53,"Tone":70.6},{"r":"8","l":8,"k":2,"Sixltr":14.06,"Tone":68.2},{"r":"8","l":8,"k":3,"Sixltr":14.48,"Tone":57.6},{"r":"8","l":8,"k":4,"Sixltr":14.59,"Tone":50.6},{"r":"8","l":8,"k":5,"Sixltr":14.06,"Tone":49.4},{"r":"8","l":8,"k":6,"Sixltr":13.35,"Tone":54.1},{"r":"8","l":8,"k":7,"Sixltr":12.93,"Tone":58.8},
{"r":"9","l":9,"k":0,"Sixltr":13.28,"Tone":63.5},{"r":"9","l":9,"k":1,"Sixltr":13.71,"Tone":67.1},{"r":"9","l":9,"k":2,"Sixltr":14.24,"Tone":63.5},{"r":"9","l":9,"k":3,"Sixltr":14.41,"Tone":55.3},{"r":"9","l":9,"k":4,"Sixltr":14.24,"Tone":50.6},{"r":"9","l":9,"k":5,"Sixltr":13.71,"Tone":51.8},{"r":"9","l":9,"k":6,"Sixltr":13.28,"Tone":57.6}
],
"c_dt":[
{"r":"1","l":1,"k":0,"Dic":87.6,"Tone":36.5},{"r":"1","l":1,"k":1,"Dic":87.78,"Tone":47.1},{"r":"1","l":1,"k":2,"Dic":88.7,"Tone":59.5},{"r":"1","l":1,"k":3,"Dic":89.69,"Tone":64.2},{"r":"1","l":1,"k":4,"Dic":90.9,"Tone":74.6},{"r":"1","l":1,"k":5,"Dic":92.22,"Tone":92.9},{"r":"1","l":1,"k":6,"Dic":93.54,"Tone":107.1},{"r":"1","l":1,"k":7,"Dic":94.86,"Tone":112.9},{"r":"1","l":1,"k":8,"Dic":95.3,"Tone":107.1},{"r":"1","l":1,"k":9,"Dic":95.08,"Tone":92.9},{"r":"1","l":1,"k":10,"Dic":94.42,"Tone":74.1},{"r":"1","l":1,"k":11,"Dic":93.54,"Tone":57.6},{"r":"1","l":1,"k":12,"Dic":92.0,"Tone":42.4},{"r":"1","l":1,"k":13,"Dic":90.02,"Tone":31.8},{"r":"1","l":1,"k":14,"Dic":88.7,"Tone":29.4},{"r":"1","l":1,"k":15,"Dic":87.82,"Tone":31.8},
{"r":"2","l":2,"k":0,"Dic":88.11,"Tone":37.4},{"r":"2","l":2,"k":1,"Dic":88.22,"Tone":47.1},{"r":"2","l":2,"k":2,"Dic":89.03,"Tone":57.2},{"r":"2","l":2,"k":3,"Dic":89.91,"Tone":61.2},{"r":"2","l":2,"k":4,"Dic":91.12,"Tone":70.6},{"r":"2","l":2,"k":5,"Dic":92.44,"Tone":90.6},{"r":"2","l":2,"k":6,"Dic":93.65,"Tone":103.5},{"r":"2","l":2,"k":7,"Dic":94.64,"Tone":108.2},{"r":"2","l":2,"k":8,"Dic":94.97,"Tone":104.7},{"r":"2","l":2,"k":9,"Dic":94.75,"Tone":90.6},{"r":"2","l":2,"k":10,"Dic":94.09,"Tone":72.9},{"r":"2","l":2,"k":11,"Dic":93.21,"Tone":57.6},{"r":"2","l":2,"k":12,"Dic":91.78,"Tone":43.5},{"r":"2","l":2,"k":13,"Dic":90.02,"Tone":35.3},{"r":"2","l":2,"k":14,"Dic":88.7,"Tone":34.6},
{"r":"3","l":3,"k":0,"Dic":88.53,"Tone":39.3},{"r":"3","l":3,"k":1,"Dic":88.59,"Tone":48.2},{"r":"3","l":3,"k":2,"Dic":89.32,"Tone":55.3},{"r":"3","l":3,"k":3,"Dic":90.35,"Tone":58.6},{"r":"3","l":3,"k":4,"Dic":91.23,"Tone":65.9},{"r":"3","l":3,"k":5,"Dic":92.44,"Tone":85.9},{"r":"3","l":3,"k":6,"Dic":93.54,"Tone":100.0},{"r":"3","l":3,"k":7,"Dic":94.42,"Tone":104.7},{"r":"3","l":3,"k":8,"Dic":94.64,"Tone":100.0},{"r":"3","l":3,"k":9,"Dic":94.42,"Tone":88.2},{"r":"3","l":3,"k":10,"Dic":93.76,"Tone":71.8},{"r":"3","l":3,"k":11,"Dic":92.88,"Tone":57.6},{"r":"3","l":3,"k":12,"Dic":91.56,"Tone":45.9},{"r":"3","l":3,"k":13,"Dic":90.02,"Tone":38.8},{"r":"3","l":3,"k":14,"Dic":88.92,"Tone":37.6},
{"r":"4","l":4,"k":0,"Dic":89.14,"Tone":44.7},{"r":"4","l":4,"k":1,"Dic":90.13,"Tone":49.4},{"r":"4","l":4,"k":2,"Dic":91.45,"Tone":61.2},{"r":"4","l":4,"k":3,"Dic":92.44,"Tone":81.2},{"r":"4","l":4,"k":4,"Dic":93.54,"Tone":95.3},{"r":"4","l":4,"k":5,"Dic":94.2,"Tone":98.8},{"r":"4","l":4,"k":6,"Dic":94.37,"Tone":94.1},{"r":"4","l":4,"k":7,"Dic":93.98,"Tone":80.0},{"r":"4","l":4,"k":8,"Dic":93.32,"Tone":64.7},{"r":"4","l":4,"k":9,"Dic":92.33,"Tone":52.9},{"r":"4","l":4,"k":10,"Dic":91.12,"Tone":43.5},{"r":"4","l":4,"k":11,"Dic":89.8,"Tone":41.2},
{"r":"4b","l":4,"k":0,"Dic":89.14,"Tone":51.8},{"r":"4b","l":4,"k":1,"Dic":89.36,"Tone":53.4},{"r":"4b","l":4,"k":2,"Dic":89.54,"Tone":51.8},{"r":"4b","l":4,"k":3,"Dic":89.36,"Tone":49.9},
{"r":"5","l":5,"k":0,"Dic":90.46,"Tone":47.1},{"r":"5","l":5,"k":1,"Dic":91.56,"Tone":57.6},{"r":"5","l":5,"k":2,"Dic":92.22,"Tone":72.9},{"r":"5","l":5,"k":3,"Dic":92.88,"Tone":87.1},{"r":"5","l":5,"k":4,"Dic":93.65,"Tone":92.9},{"r":"5","l":5,"k":5,"Dic":93.98,"Tone":90.6},{"r":"5","l":5,"k":6,"Dic":93.76,"Tone":78.8},{"r":"5","l":5,"k":7,"Dic":93.21,"Tone":64.7},{"r":"5","l":5,"k":8,"Dic":92.22,"Tone":52.9},{"r":"5","l":5,"k":9,"Dic":91.12,"Tone":45.9},
{"r":"6","l":6,"k":0,"Dic":91.23,"Tone":52.9},{"r":"6","l":6,"k":1,"Dic":91.89,"Tone":64.7},{"r":"6","l":6,"k":2,"Dic":92.44,"Tone":78.8},{"r":"6","l":6,"k":3,"Dic":93.1,"Tone":88.2},{"r":"6","l":6,"k":4,"Dic":93.65,"Tone":89.4},{"r":"6","l":6,"k":5,"Dic":93.65,"Tone":82.4},{"r":"6","l":6,"k":6,"Dic":93.21,"Tone":69.4},{"r":"6","l":6,"k":7,"Dic":92.44,"Tone":57.6},{"r":"6","l":6,"k":8,"Dic":91.67,"Tone":51.8},
{"r":"7","l":7,"k":0,"Dic":91.78,"Tone":60.0},{"r":"7","l":7,"k":1,"Dic":92.22,"Tone":72.9},{"r":"7","l":7,"k":2,"Dic":92.77,"Tone":84.7},{"r":"7","l":7,"k":3,"Dic":93.32,"Tone":87.1},{"r":"7","l":7,"k":4,"Dic":93.43,"Tone":81.2},{"r":"7","l":7,"k":5,"Dic":92.99,"Tone":69.4},{"r":"7","l":7,"k":6,"Dic":92.33,"Tone":61.2},
{"r":"8","l":8,"k":0,"Dic":92.11,"Tone":71.8},{"r":"8","l":8,"k":1,"Dic":92.55,"Tone":82.4},{"r":"8","l":8,"k":2,"Dic":93.1,"Tone":85.9},{"r":"8","l":8,"k":3,"Dic":93.21,"Tone":81.2},{"r":"8","l":8,"k":4,"Dic":92.77,"Tone":71.8},{"r":"8","l":8,"k":5,"Dic":92.33,"Tone":68.2},
{"r":"9","l":9,"k":0,"Dic":92.22,"Tone":75.3},{"r":"9","l":9,"k":1,"Dic":92.66,"Tone":83.5},{"r":"9","l":9,"k":2,"Dic":93.05,"Tone":85.4},{"r":"9","l":9,"k":3,"Dic":93.05,"Tone":80.0},{"r":"9","l":9,"k":4,"Dic":92.66,"Tone":73.6},{"r":"9","l":9,"k":5,"Dic":92.33,"Tone":71.8}
]
},
"concat":[
{"width":147,"height":152,"layer":[
 {"data":{"name":"pts"},"mark":{"type":"point","opacity":0},"encoding":{
  "x":{"field":"WPS","type":"quantitative","scale":{"domain":[1.93,35.79],"nice":false,"zero":false},"axis":{"values":[5,10,15,20,25,30,35],"labels":false,"title":null}},
  "y":{"field":"WPS","type":"quantitative","scale":{"domain":[10.98,26.93],"nice":false,"zero":false},"axis":{"values":[12,14,16,18,20,22,24,26],"title":"WPS"}}}},
 {"data":{"name":"hist"},"transform":[{"filter":"datum.var === 'WPS'"}],"mark":{"type":"rect","fill":"#8b0000","stroke":"#1a1a1a","strokeWidth":0.9},"encoding":{
  "x":{"field":"lo","type":"quantitative","scale":{"domain":[1.93,35.79],"nice":false,"zero":false}},"x2":{"field":"hi"},
  "y":{"field":"n","type":"quantitative","scale":{"domain":[0,3.15],"nice":false},"axis":null},"y2":{"datum":0}}}
 ],"resolve":{"scale":{"y":"independent"}}},
{"width":147,"height":152,"layer":[
 {"data":{"name":"pts"},"mark":{"type":"point","shape":"circle","filled":true,"fill":"#8b0000","stroke":"white","strokeWidth":0.5,"size":24,"opacity":1,"clip":true},"encoding":{
  "x":{"field":"Sixltr","type":"quantitative","scale":{"domain":[5.0,20.75],"nice":false,"zero":false},"axis":{"values":[6,8,10,12,14,16,18,20],"labels":false,"title":null}},
  "y":{"field":"WPS","type":"quantitative","scale":{"domain":[10.98,26.93],"nice":false,"zero":false},"axis":{"values":[12,14,16,18,20,22,24,26],"labels":false,"title":null}}}},
 {"data":{"name":"rho"},"transform":[{"filter":"datum.pair === 'WPS-Sixltr'"}],"mark":{"type":"text","text":"ρ","font":"DejaVu Sans","fontStyle":"italic","fontSize":11.5,"color":"#262626","align":"left","baseline":"alphabetic"},"encoding":{"x":{"datum":8.15,"type":"quantitative"},"y":{"datum":26.13,"type":"quantitative"}}},
 {"data":{"name":"rho"},"transform":[{"filter":"datum.pair === 'WPS-Sixltr'"}],"mark":{"type":"text","font":"DejaVu Sans","fontSize":11.5,"color":"#262626","align":"left","baseline":"alphabetic","dx":13},"encoding":{"x":{"datum":8.15,"type":"quantitative"},"y":{"datum":26.13,"type":"quantitative"},"text":{"field":"label"}}}
 ]},
{"width":147,"height":152,"layer":[
 {"data":{"name":"pts"},"mark":{"type":"point","shape":"circle","filled":true,"fill":"#8b0000","stroke":"white","strokeWidth":0.5,"size":24,"opacity":1,"clip":true},"encoding":{
  "x":{"field":"Dic","type":"quantitative","scale":{"domain":[86.4,96.15],"nice":false,"zero":false},"axis":{"values":[88,90,92,94,96],"labels":false,"title":null}},
  "y":{"field":"WPS","type":"quantitative","scale":{"domain":[10.98,26.93],"nice":false,"zero":false},"axis":{"values":[12,14,16,18,20,22,24,26],"labels":false,"title":null}}}},
 {"data":{"name":"rho"},"transform":[{"filter":"datum.pair === 'WPS-Dic'"}],"mark":{"type":"text","text":"ρ","font":"DejaVu Sans","fontStyle":"italic","fontSize":11.5,"color":"#262626","align":"left","baseline":"alphabetic"},"encoding":{"x":{"datum":88.35,"type":"quantitative"},"y":{"datum":26.13,"type":"quantitative"}}},
 {"data":{"name":"rho"},"transform":[{"filter":"datum.pair === 'WPS-Dic'"}],"mark":{"type":"text","font":"DejaVu Sans","fontSize":11.5,"color":"#262626","align":"left","baseline":"alphabetic","dx":13},"encoding":{"x":{"datum":88.35,"type":"quantitative"},"y":{"datum":26.13,"type":"quantitative"},"text":{"field":"label"}}}
 ]},
{"width":139,"height":152,"layer":[
 {"data":{"name":"pts"},"mark":{"type":"point","shape":"circle","filled":true,"fill":"#8b0000","stroke":"white","strokeWidth":0.5,"size":24,"opacity":1,"clip":true},"encoding":{
  "x":{"field":"Tone","type":"quantitative","scale":{"domain":[47.5,86.3],"nice":false,"zero":false},"axis":{"values":[50,60,70,80],"labels":false,"title":null}},
  "y":{"field":"WPS","type":"quantitative","scale":{"domain":[10.98,26.93],"nice":false,"zero":false},"axis":{"values":[12,14,16,18,20,22,24,26],"labels":false,"title":null}}}},
 {"data":{"name":"rho"},"transform":[{"filter":"datum.pair === 'WPS-Tone'"}],"mark":{"type":"text","text":"ρ","font":"DejaVu Sans","fontStyle":"italic","fontSize":11.5,"color":"#262626","align":"left","baseline":"alphabetic"},"encoding":{"x":{"datum":55.7,"type":"quantitative"},"y":{"datum":26.13,"type":"quantitative"}}},
 {"data":{"name":"rho"},"transform":[{"filter":"datum.pair === 'WPS-Tone'"}],"mark":{"type":"text","font":"DejaVu Sans","fontSize":11.5,"color":"#262626","align":"left","baseline":"alphabetic","dx":13},"encoding":{"x":{"datum":55.7,"type":"quantitative"},"y":{"datum":26.13,"type":"quantitative"},"text":{"field":"label"}}}
 ]},
{"width":147,"height":152,"data":{"name":"c_ws"},"mark":{"type":"line","interpolate":"cardinal-closed","strokeWidth":1.2,"clip":true},"encoding":{
  "x":{"field":"WPS","type":"quantitative","scale":{"domain":[1.93,35.79],"nice":false,"zero":false},"axis":{"values":[5,10,15,20,25,30,35],"labels":false,"title":null}},
  "y":{"field":"Sixltr","type":"quantitative","scale":{"domain":[5.0,20.75],"nice":false,"zero":false},"axis":{"values":[6,8,10,12,14,16,18,20],"title":"Sixltr"}},
  "detail":{"field":"r"},"order":{"field":"k","type":"quantitative"},
  "color":{"field":"l","type":"ordinal","scale":{"domain":[1,2,3,4,5,6,7,8,9],"range":["#fee5d9","#fdd0bc","#fcb6a0","#fc9c82","#f98467","#f26a52","#e4504a","#d33c44","#bf2b3e"]},"legend":null}}},
{"width":147,"height":152,"layer":[
 {"data":{"name":"pts"},"mark":{"type":"point","opacity":0},"encoding":{
  "x":{"field":"Sixltr","type":"quantitative","scale":{"domain":[5.0,20.75],"nice":false,"zero":false},"axis":{"values":[6,8,10,12,14,16,18,20],"labels":false,"title":null}},
  "y":{"field":"Sixltr","type":"quantitative","scale":{"domain":[5.0,20.75],"nice":false,"zero":false},"axis":{"values":[6,8,10,12,14,16,18,20],"labels":false,"title":null}}}},
 {"data":{"name":"hist"},"transform":[{"filter":"datum.var === 'Sixltr'"}],"mark":{"type":"rect","fill":"#8b0000","stroke":"#1a1a1a","strokeWidth":0.9},"encoding":{
  "x":{"field":"lo","type":"quantitative","scale":{"domain":[5.0,20.75],"nice":false,"zero":false}},"x2":{"field":"hi"},
  "y":{"field":"n","type":"quantitative","scale":{"domain":[0,3.15],"nice":false},"axis":null},"y2":{"datum":0}}}
 ],"resolve":{"scale":{"y":"independent"}}},
{"width":147,"height":152,"layer":[
 {"data":{"name":"pts"},"mark":{"type":"point","shape":"circle","filled":true,"fill":"#8b0000","stroke":"white","strokeWidth":0.5,"size":24,"opacity":1,"clip":true},"encoding":{
  "x":{"field":"Dic","type":"quantitative","scale":{"domain":[86.4,96.15],"nice":false,"zero":false},"axis":{"values":[88,90,92,94,96],"labels":false,"title":null}},
  "y":{"field":"Sixltr","type":"quantitative","scale":{"domain":[5.0,20.75],"nice":false,"zero":false},"axis":{"values":[6,8,10,12,14,16,18,20],"labels":false,"title":null}}}},
 {"data":{"name":"rho"},"transform":[{"filter":"datum.pair === 'Sixltr-Dic'"}],"mark":{"type":"text","text":"ρ","font":"DejaVu Sans","fontStyle":"italic","fontSize":11.5,"color":"#262626","align":"left","baseline":"alphabetic"},"encoding":{"x":{"datum":88.35,"type":"quantitative"},"y":{"datum":19.96,"type":"quantitative"}}},
 {"data":{"name":"rho"},"transform":[{"filter":"datum.pair === 'Sixltr-Dic'"}],"mark":{"type":"text","font":"DejaVu Sans","fontSize":11.5,"color":"#262626","align":"left","baseline":"alphabetic","dx":13},"encoding":{"x":{"datum":88.35,"type":"quantitative"},"y":{"datum":19.96,"type":"quantitative"},"text":{"field":"label"}}}
 ]},
{"width":139,"height":152,"layer":[
 {"data":{"name":"pts"},"mark":{"type":"point","shape":"circle","filled":true,"fill":"#8b0000","stroke":"white","strokeWidth":0.5,"size":24,"opacity":1,"clip":true},"encoding":{
  "x":{"field":"Tone","type":"quantitative","scale":{"domain":[47.5,86.3],"nice":false,"zero":false},"axis":{"values":[50,60,70,80],"labels":false,"title":null}},
  "y":{"field":"Sixltr","type":"quantitative","scale":{"domain":[5.0,20.75],"nice":false,"zero":false},"axis":{"values":[6,8,10,12,14,16,18,20],"labels":false,"title":null}}}},
 {"data":{"name":"rho"},"transform":[{"filter":"datum.pair === 'Sixltr-Tone'"}],"mark":{"type":"text","text":"ρ","font":"DejaVu Sans","fontStyle":"italic","fontSize":11.5,"color":"#262626","align":"left","baseline":"alphabetic"},"encoding":{"x":{"datum":55.7,"type":"quantitative"},"y":{"datum":19.96,"type":"quantitative"}}},
 {"data":{"name":"rho"},"transform":[{"filter":"datum.pair === 'Sixltr-Tone'"}],"mark":{"type":"text","font":"DejaVu Sans","fontSize":11.5,"color":"#262626","align":"left","baseline":"alphabetic","dx":13},"encoding":{"x":{"datum":55.7,"type":"quantitative"},"y":{"datum":19.96,"type":"quantitative"},"text":{"field":"label"}}}
 ]},
{"width":147,"height":152,"data":{"name":"c_wd"},"mark":{"type":"line","interpolate":"cardinal-closed","strokeWidth":1.2,"clip":true},"encoding":{
  "x":{"field":"WPS","type":"quantitative","scale":{"domain":[1.93,35.79],"nice":false,"zero":false},"axis":{"values":[5,10,15,20,25,30,35],"labels":false,"title":null}},
  "y":{"field":"Dic","type":"quantitative","scale":{"domain":[86.4,96.15],"nice":false,"zero":false},"axis":{"values":[88,90,92,94,96],"title":"Dic"}},
  "detail":{"field":"r"},"order":{"field":"k","type":"quantitative"},
  "color":{"field":"l","type":"ordinal","scale":{"domain":[1,2,3,4,5,6,7,8,9],"range":["#fee5d9","#fdd0bc","#fcb6a0","#fc9c82","#f98467","#f26a52","#e4504a","#d33c44","#bf2b3e"]},"legend":null}}},
{"width":147,"height":152,"data":{"name":"c_sd"},"mark":{"type":"line","interpolate":"cardinal-closed","strokeWidth":1.2,"clip":true},"encoding":{
  "x":{"field":"Sixltr","type":"quantitative","scale":{"domain":[5.0,20.75],"nice":false,"zero":false},"axis":{"values":[6,8,10,12,14,16,18,20],"labels":false,"title":null}},
  "y":{"field":"Dic","type":"quantitative","scale":{"domain":[86.4,96.15],"nice":false,"zero":false},"axis":{"values":[88,90,92,94,96],"labels":false,"title":null}},
  "detail":{"field":"r"},"order":{"field":"k","type":"quantitative"},
  "color":{"field":"l","type":"ordinal","scale":{"domain":[1,2,3,4,5,6,7,8,9],"range":["#fee5d9","#fdd0bc","#fcb6a0","#fc9c82","#f98467","#f26a52","#e4504a","#d33c44","#bf2b3e"]},"legend":null}}},
{"width":147,"height":152,"layer":[
 {"data":{"name":"pts"},"mark":{"type":"point","opacity":0},"encoding":{
  "x":{"field":"Dic","type":"quantitative","scale":{"domain":[86.4,96.15],"nice":false,"zero":false},"axis":{"values":[88,90,92,94,96],"labels":false,"title":null}},
  "y":{"field":"Dic","type":"quantitative","scale":{"domain":[86.4,96.15],"nice":false,"zero":false},"axis":{"values":[88,90,92,94,96],"labels":false,"title":null}}}},
 {"data":{"name":"hist"},"transform":[{"filter":"datum.var === 'Dic'"}],"mark":{"type":"rect","fill":"#8b0000","stroke":"#1a1a1a","strokeWidth":0.9},"encoding":{
  "x":{"field":"lo","type":"quantitative","scale":{"domain":[86.4,96.15],"nice":false,"zero":false}},"x2":{"field":"hi"},
  "y":{"field":"n","type":"quantitative","scale":{"domain":[0,3.15],"nice":false},"axis":null},"y2":{"datum":0}}}
 ],"resolve":{"scale":{"y":"independent"}}},
{"width":139,"height":152,"layer":[
 {"data":{"name":"pts"},"mark":{"type":"point","shape":"circle","filled":true,"fill":"#8b0000","stroke":"white","strokeWidth":0.5,"size":24,"opacity":1,"clip":true},"encoding":{
  "x":{"field":"Tone","type":"quantitative","scale":{"domain":[47.5,86.3],"nice":false,"zero":false},"axis":{"values":[50,60,70,80],"labels":false,"title":null}},
  "y":{"field":"Dic","type":"quantitative","scale":{"domain":[86.4,96.15],"nice":false,"zero":false},"axis":{"values":[88,90,92,94,96],"labels":false,"title":null}}}},
 {"data":{"name":"rho"},"transform":[{"filter":"datum.pair === 'Dic-Tone'"}],"mark":{"type":"text","text":"ρ","font":"DejaVu Sans","fontStyle":"italic","fontSize":11.5,"color":"#262626","align":"left","baseline":"alphabetic"},"encoding":{"x":{"datum":55.7,"type":"quantitative"},"y":{"datum":95.66,"type":"quantitative"}}},
 {"data":{"name":"rho"},"transform":[{"filter":"datum.pair === 'Dic-Tone'"}],"mark":{"type":"text","font":"DejaVu Sans","fontSize":11.5,"color":"#262626","align":"left","baseline":"alphabetic","dx":13},"encoding":{"x":{"datum":55.7,"type":"quantitative"},"y":{"datum":95.66,"type":"quantitative"},"text":{"field":"label"}}}
 ]},
{"width":147,"height":152,"data":{"name":"c_wt"},"mark":{"type":"line","interpolate":"cardinal-closed","strokeWidth":1.2,"clip":true},"encoding":{
  "x":{"field":"WPS","type":"quantitative","scale":{"domain":[1.93,35.79],"nice":false,"zero":false},"axis":{"values":[5,10,15,20,25,30,35],"title":"WPS"}},
  "y":{"field":"Tone","type":"quantitative","scale":{"domain":[14.6,121.7],"nice":false,"zero":false},"axis":{"values":[20,40,60,80,100,120],"title":"Tone"}},
  "detail":{"field":"r"},"order":{"field":"k","type":"quantitative"},
  "color":{"field":"l","type":"ordinal","scale":{"domain":[1,2,3,4,5,6,7,8,9],"range":["#fee5d9","#fdd0bc","#fcb6a0","#fc9c82","#f98467","#f26a52","#e4504a","#d33c44","#bf2b3e"]},"legend":null}}},
{"width":147,"height":152,"data":{"name":"c_st"},"mark":{"type":"line","interpolate":"cardinal-closed","strokeWidth":1.2,"clip":true},"encoding":{
  "x":{"field":"Sixltr","type":"quantitative","scale":{"domain":[5.0,20.75],"nice":false,"zero":false},"axis":{"values":[6,8,10,12,14,16,18,20],"title":"Sixltr"}},
  "y":{"field":"Tone","type":"quantitative","scale":{"domain":[14.6,121.7],"nice":false,"zero":false},"axis":{"values":[20,40,60,80,100,120],"labels":false,"title":null}},
  "detail":{"field":"r"},"order":{"field":"k","type":"quantitative"},
  "color":{"field":"l","type":"ordinal","scale":{"domain":[1,2,3,4,5,6,7,8,9],"range":["#fee5d9","#fdd0bc","#fcb6a0","#fc9c82","#f98467","#f26a52","#e4504a","#d33c44","#bf2b3e"]},"legend":null}}},
{"width":147,"height":152,"data":{"name":"c_dt"},"mark":{"type":"line","interpolate":"cardinal-closed","strokeWidth":1.2,"clip":true},"encoding":{
  "x":{"field":"Dic","type":"quantitative","scale":{"domain":[86.4,96.15],"nice":false,"zero":false},"axis":{"values":[88,90,92,94,96],"title":"Dic"}},
  "y":{"field":"Tone","type":"quantitative","scale":{"domain":[14.6,121.7],"nice":false,"zero":false},"axis":{"values":[20,40,60,80,100,120],"labels":false,"title":null}},
  "detail":{"field":"r"},"order":{"field":"k","type":"quantitative"},
  "color":{"field":"l","type":"ordinal","scale":{"domain":[1,2,3,4,5,6,7,8,9],"range":["#fee5d9","#fdd0bc","#fcb6a0","#fc9c82","#f98467","#f26a52","#e4504a","#d33c44","#bf2b3e"]},"legend":null}}},
{"width":139,"height":152,"layer":[
 {"data":{"name":"pts"},"mark":{"type":"point","opacity":0},"encoding":{
  "x":{"field":"Tone","type":"quantitative","scale":{"domain":[47.5,86.3],"nice":false,"zero":false},"axis":{"values":[50,60,70,80],"title":"Tone"}},
  "y":{"field":"Tone","type":"quantitative","scale":{"domain":[14.6,121.7],"nice":false,"zero":false},"axis":{"values":[20,40,60,80,100,120],"labels":false,"title":null}}}},
 {"data":{"name":"hist"},"transform":[{"filter":"datum.var === 'Tone'"}],"mark":{"type":"rect","fill":"#8b0000","stroke":"#1a1a1a","strokeWidth":0.9,"clip":true},"encoding":{
  "x":{"field":"lo","type":"quantitative","scale":{"domain":[47.5,86.3],"nice":false,"zero":false}},"x2":{"field":"hi"},
  "y":{"field":"n","type":"quantitative","scale":{"domain":[0,3.15],"nice":false},"axis":null},"y2":{"datum":0}}}
 ],"resolve":{"scale":{"y":"independent"}}}
],
"config":{
 "view":{"stroke":null},
 "axis":{"grid":false,"domainColor":"#808080","domainWidth":1,"tickColor":"#808080","tickWidth":0.8,"tickSize":2.5,"labelFont":"DejaVu Sans","labelFontSize":5.5,"labelColor":"#333333","labelPadding":1.5,"labelFlush":false,"labelOverlap":false,"titleFont":"DejaVu Sans","titleFontSize":6.5,"titleFontWeight":"normal","titleColor":"#333333","titlePadding":3}
}
}
